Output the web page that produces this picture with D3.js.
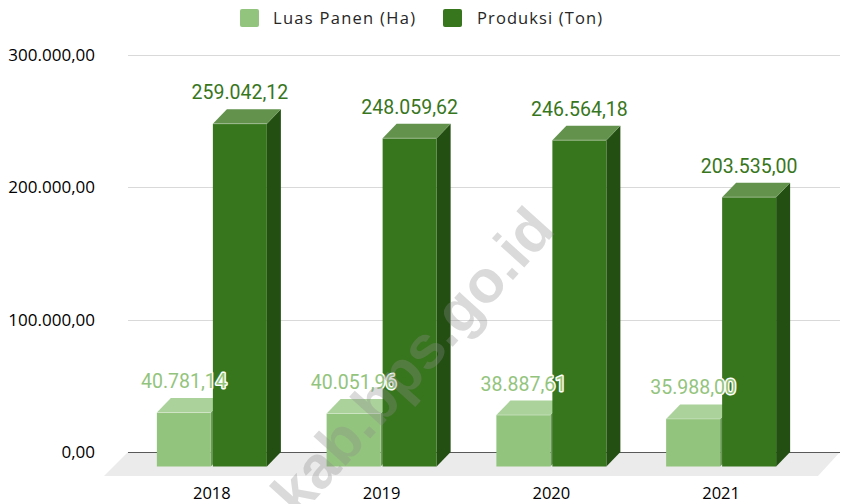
<!DOCTYPE html>
<html>
<head>
<meta charset="utf-8">
<script src="https://cdn.jsdelivr.net/npm/d3@7"></script>
<style>
  html, body { margin: 0; padding: 0; background: #fff; }
  svg { display: block; }
</style>
</head>
<body>
<svg id="chart" width="841" height="504"></svg>
<script>
// chart data
const years = ["2018", "2019", "2020", "2021"]
const seriesNames = ["Luas Panen (Ha)", "Produksi (Ton)"]
const luasPanen = [40781.14, 40051.96, 38887.61, 35988.00]
const produksi = [259042.12, 248059.62, 246564.18, 203535.00]
const yTicks = [0, 100000, 200000, 300000]

const colors = [
  { front: "#93c47d", top: "#aad29a", side: "#6b9a58" },
  { front: "#38761d", top: "#62924c", side: "#234f12" }
]

const depthX = 14, depthY = 14.5   // 3d offset front -> back
const baseBack = 452
const baseFront = baseBack + depthY

const svg = d3.select("#chart")

// number format like 259.042,12
const fmt = d3.formatLocale({ decimal: ",", thousands: ".", grouping: [3], currency: ["", ""] }).format(",.2f")

// y scale on the back wall
const y = d3.scaleLinear().domain([0, 300000]).range([baseBack, 55])

// x scale on the front plane
const x0 = d3.scaleBand().domain(years).range([127, 806])
const x1 = d3.scaleBand().domain(seriesNames).range([0, 110]).paddingInner(0.036)
const barOffset = (x0.bandwidth() - 110) / 2

// floor
svg.append("polygon")
  .attr("points", [[128, baseBack], [840, baseBack], [818, baseBack + 24], [104, baseBack + 24]].join(" "))
  .attr("fill", "#ebebeb")

// gridlines
svg.append("g")
  .selectAll("line")
  .data(yTicks.filter(d => d > 0))
  .enter()
  .append("line")
  .attr("x1", 128).attr("x2", 840)
  .attr("y1", d => Math.round(y(d)) + 0.5)
  .attr("y2", d => Math.round(y(d)) + 0.5)
  .attr("stroke", "#d9d9d9")
  .attr("stroke-width", 1.2)

svg.append("line")
  .attr("x1", 128).attr("x2", 840)
  .attr("y1", baseBack + 0.5).attr("y2", baseBack + 0.5)
  .attr("stroke", "#595959")
  .attr("stroke-width", 1.2)

// y axis labels
svg.append("g")
  .selectAll("text")
  .data(yTicks)
  .enter()
  .append("text")
  .attr("x", 95)
  .attr("y", d => y(d) + 6)
  .attr("text-anchor", "end")
  .attr("font-family", "'Open Sans', sans-serif")
  .attr("font-size", 17)
  .attr("fill", "#000")
  .text(d => fmt(d))

// bars
const rows = years.map((yr, i) => ({ year: yr, values: [luasPanen[i], produksi[i]] }))

const barG = svg.append("g")
rows.forEach(row => {
  row.values.forEach((v, s) => {
    const xf = x0(row.year) + barOffset + x1(seriesNames[s])
    const w = x1.bandwidth()
    const yf = y(v) + depthY
    const c = colors[s]
    const g = barG.append("g")
    // side face
    g.append("polygon")
      .attr("points", [[xf + w, yf], [xf + w + depthX, yf - depthY], [xf + w + depthX, baseBack], [xf + w, baseFront]].join(" "))
      .attr("fill", c.side)
    // top face
    g.append("polygon")
      .attr("points", [[xf, yf], [xf + w, yf], [xf + w + depthX, yf - depthY], [xf + depthX, yf - depthY]].join(" "))
      .attr("fill", c.top)
    // front face
    g.append("rect")
      .attr("x", xf).attr("y", yf)
      .attr("width", w).attr("height", baseFront - yf)
      .attr("fill", c.front)
    // edge highlight
    g.append("line")
      .attr("x1", xf).attr("x2", xf + w)
      .attr("y1", yf).attr("y2", yf)
      .attr("stroke", "#ffffff").attr("stroke-opacity", 0.35)
  })
})

// data labels
const labelG = svg.append("g")
rows.forEach(row => {
  row.values.forEach((v, s) => {
    const xf = x0(row.year) + barOffset + x1(seriesNames[s])
    labelG.append("text")
      .attr("x", xf + x1.bandwidth() / 2)
      .attr("y", y(v) - 10)
      .attr("text-anchor", "middle")
      .attr("font-family", "Roboto, sans-serif")
      .attr("font-size", 19.5)
      .attr("fill", colors[s].front)
      .attr("stroke", "#fff")
      .attr("stroke-width", 3)
      .attr("stroke-linejoin", "round")
      .attr("paint-order", "stroke")
      .text(fmt(v))
  })
})

// category labels
svg.append("g")
  .selectAll("text")
  .data(years)
  .enter()
  .append("text")
  .attr("x", d => x0(d) + x0.bandwidth() / 2)
  .attr("y", 499)
  .attr("text-anchor", "middle")
  .attr("font-family", "'Open Sans', sans-serif")
  .attr("font-size", 16.5)
  .attr("fill", "#000")
  .text(d => d)

// legend
const legendPos = [{ x: 240, tx: 273, len: 142 }, { x: 443, tx: 477, len: 125 }]
const legend = svg.append("g")
seriesNames.forEach((name, s) => {
  legend.append("rect")
    .attr("x", legendPos[s].x).attr("y", 9)
    .attr("width", 19).attr("height", 18)
    .attr("rx", 2)
    .attr("fill", colors[s].front)
  legend.append("text")
    .attr("x", legendPos[s].tx).attr("y", 24)
    .attr("font-family", "'Open Sans', sans-serif")
    .attr("font-size", 16.5)
    .attr("fill", "#262626")
    .attr("textLength", legendPos[s].len)
    .attr("lengthAdjust", "spacing")
    .text(name)
})

// watermark
svg.append("text")
  .attr("transform", "translate(416,364) rotate(-48)")
  .attr("text-anchor", "middle")
  .attr("dominant-baseline", "middle")
  .attr("font-family", "'Liberation Sans', Arial, sans-serif")
  .attr("font-weight", "bold")
  .attr("font-size", 60)
  .attr("fill", "#8c8c8c")
  .attr("fill-opacity", 0.32)
  .text("kab.bps.go.id")
</script>
</body>
</html>
